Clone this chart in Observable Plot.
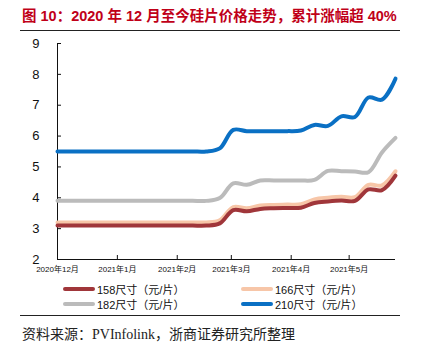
<!DOCTYPE html>
<html>
<head>
<meta charset="utf-8">
<script src="https://cdn.jsdelivr.net/npm/d3@7"></script>
<script src="https://cdn.jsdelivr.net/npm/@observablehq/plot@0.6"></script>
<style>
  body { margin: 0; width: 430px; height: 355px; position: relative; background: #fff; overflow: hidden;
         font-family: "Liberation Sans", "Noto Sans CJK SC", sans-serif; }
  #title { position: absolute; left: 22px; top: 4px; font-size: 14.5px; font-weight: bold; color: #C00018; white-space: nowrap; }
  #trule { position: absolute; left: 20px; width: 380px; top: 30px; border-top: 1px solid #222; }
  #chart { position: absolute; left: 0; top: 32px; }
  .leg { position: absolute; display: flex; align-items: center; font-size: 11px; color: #111; white-space: nowrap; }
  .sw { width: 32px; height: 4px; border-radius: 2px; margin-right: 2px; }
  #brule { position: absolute; left: 20px; width: 380px; top: 315px; border-top: 1px solid #222; }
  #source { position: absolute; left: 22px; top: 323px; font-size: 14px; color: #222; white-space: nowrap;
            font-family: "Liberation Serif", "Noto Sans CJK SC", serif; }
</style>
</head>
<body>
<div id="title">图 10：2020 年 12 月至今硅片价格走势，累计涨幅超 40%</div>
<div id="trule"></div>
<div id="chart"></div>
<div id="legend"></div>
<div id="brule"></div>
<div id="source">资料来源：PVInfolink，浙商证券研究所整理</div>
<script>
// ---- data ----
const dates = [
  "2020-12-01","2020-12-08","2020-12-15","2020-12-22","2020-12-29",
  "2021-01-05","2021-01-12","2021-01-19","2021-01-26",
  "2021-02-02","2021-02-09","2021-02-16","2021-02-23",
  "2021-03-02","2021-03-09","2021-03-16","2021-03-23","2021-03-30",
  "2021-04-06","2021-04-13","2021-04-20","2021-04-27",
  "2021-05-04","2021-05-11","2021-05-18","2021-05-25"
];
const seriesNames = ["158尺寸（元/片）", "166尺寸（元/片）", "182尺寸（元/片）", "210尺寸（元/片）"];
const s158 = [3.1,3.1,3.1,3.1,3.1,3.1,3.1,3.1,3.1,3.1,3.1,3.1,3.17,
              3.6,3.56,3.64,3.66,3.67,3.68,3.83,3.88,3.91,3.9,4.27,4.25,4.72];
const s166 = [3.2,3.2,3.2,3.2,3.2,3.2,3.2,3.2,3.2,3.2,3.2,3.2,3.27,
              3.7,3.66,3.75,3.77,3.78,3.79,3.95,4.0,4.03,4.02,4.42,4.4,4.86];
const s182 = [3.9,3.9,3.9,3.9,3.9,3.9,3.9,3.9,3.9,3.9,3.9,3.9,3.99,
              4.47,4.42,4.56,4.56,4.56,4.56,4.58,4.87,4.86,4.85,4.83,5.47,5.94];
const s210 = [5.5,5.5,5.5,5.5,5.5,5.5,5.5,5.5,5.5,5.5,5.5,5.5,5.6,
              6.2,6.16,6.16,6.16,6.16,6.18,6.36,6.33,6.64,6.62,7.25,7.18,7.86];
const yTicks = [2,3,4,5,6,7,8,9];
const monthTicks = ["2020-12-01","2021-01-01","2021-02-01","2021-03-01","2021-04-01","2021-05-01"];

// ---- styles ----
const colors = ["#A0363A", "#F7C6A8", "#BBBBBB", "#0A70C4"];
const drawOrder = [2, 3, 1, 0];

const parse = d3.utcParse("%Y-%m-%d");
const allSeries = [s158, s166, s182, s210];
const tables = allSeries.map((vals, k) => dates.map((d, i) => ({date: parse(d), value: vals[i], series: seriesNames[k]})));
const xDomain = [parse(dates[0]), parse(dates[dates.length - 1])];
const tickDates = monthTicks.map(parse);
const fmt = d => `${d.getUTCFullYear()}年${d.getUTCMonth() + 1}月`;

const chart = Plot.plot({
  width: 430,
  height: 250,
  marginTop: 11,
  marginBottom: 23,
  marginLeft: 57,
  marginRight: 35,
  x: {type: "utc", domain: xDomain},
  y: {domain: [2, 9]},
  style: {background: "white", fontFamily: "'Liberation Sans','Noto Sans CJK SC',sans-serif", color: "#111"},
  marks: [
    Plot.axisY(yTicks, {tickSize: 0, tickPadding: 18, fontSize: 13, label: null, fill: "#111"}),
    Plot.axisY(yTicks, {tickSize: 4, dx: 4, tickFormat: () => "", label: null, stroke: "#111"}),
    Plot.axisX(tickDates, {tickSize: 0, tickPadding: 7, fontSize: 8, tickFormat: fmt, label: null, fill: "#111"}),
    Plot.axisX(tickDates, {tickSize: 4, dy: -4, tickFormat: () => "", label: null, stroke: "#111"}),
    Plot.ruleY([2], {stroke: "#111"}),
    Plot.ruleX([xDomain[0]], {stroke: "#111"}),
    ...drawOrder.map(k => Plot.line(tables[k], {
      x: "date", y: "value", stroke: colors[k], strokeWidth: 4,
      curve: "catmull-rom", strokeLinecap: "round", strokeLinejoin: "round"
    }))
  ]
});
document.getElementById("chart").appendChild(chart);

// legend
const legendPos = [[63, 281], [241, 281], [63, 296], [241, 296]];
const legend = document.getElementById("legend");
seriesNames.forEach((name, k) => {
  const item = document.createElement("div");
  item.className = "leg";
  item.style.left = legendPos[k][0] + "px";
  item.style.top = legendPos[k][1] + "px";
  const sw = document.createElement("div");
  sw.className = "sw";
  sw.style.background = colors[k];
  const tx = document.createElement("span");
  tx.textContent = name;
  item.appendChild(sw);
  item.appendChild(tx);
  legend.appendChild(item);
});
</script>
</body>
</html>
